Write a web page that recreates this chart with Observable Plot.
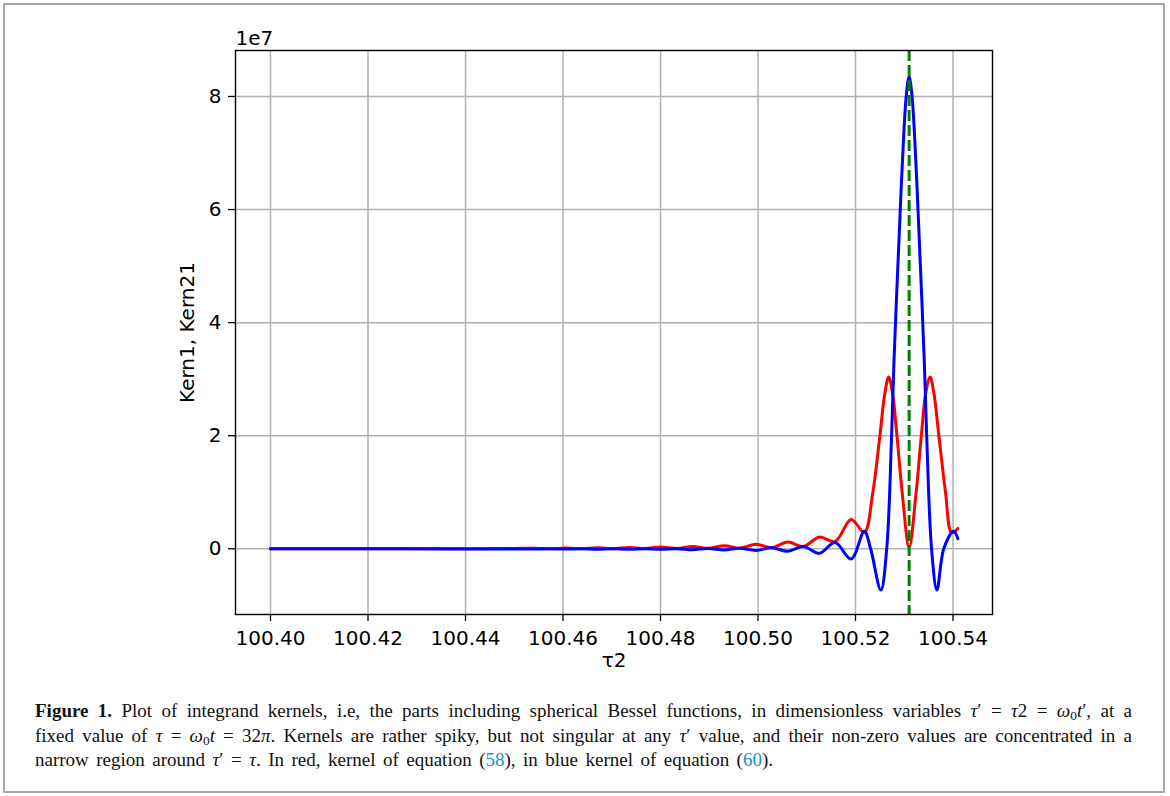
<!DOCTYPE html>
<html>
<head>
<meta charset="utf-8">
<script src="https://cdn.jsdelivr.net/npm/d3@7"></script>
<script src="https://cdn.jsdelivr.net/npm/@observablehq/plot@0.6"></script>
<style>
  html, body { margin: 0; padding: 0; background: #fff; }
  #page { position: relative; width: 1170px; height: 796px; overflow: hidden; background: #fff; }
  #border { position: absolute; left: 3px; top: 3px; width: 1158px; height: 786px; border: 2px solid #a8a8a8; }
  #chart { position: absolute; left: 0; top: 0; }
  #caption { position: absolute; left: 35px; top: 699px; width: 1097px;
             font-family: "Liberation Serif", "DejaVu Serif", serif; font-size: 19px; line-height: 24.5px; color: #111; }
  #caption .ln { white-space: nowrap; transform-origin: 0 50%; }
  #caption .ref { color: #1a8fd0; }
  #caption sub { font-size: 0.7em; vertical-align: -0.25em; line-height: 0; }
</style>
</head>
<body>
<div id="page">
  <div id="border"></div>
  <div id="chart"></div>
  <div id="caption">
    <div class="ln" data-w="1097"><b>Figure 1.</b> Plot of integrand kernels, i.e, the parts including spherical Bessel functions, in dimensionless variables <i>τ</i>′ = <i>τ</i>2 = <i>ω</i><sub>0</sub><i>t</i>′, at a</div>
    <div class="ln" data-w="1097">fixed value of <i>τ</i> = <i>ω</i><sub>0</sub><i>t</i> = 32<i>π</i>. Kernels are rather spiky, but not singular at any <i>τ</i>′ value, and their non-zero values are concentrated in a</div>
    <div class="ln" data-w="738">narrow region around <i>τ</i>′ = <i>τ</i>. In red, kernel of equation (<span class="ref">58</span>), in blue kernel of equation (<span class="ref">60</span>).</div>
  </div>
</div>
<script>
// ---- data (kernel values in units of 1e7) ----
const tauRed = [100.400, 100.420, 100.440, 100.450, 100.4541, 100.4573, 100.4606, 100.4638, 100.4671, 100.4703,
  100.4736, 100.4768, 100.4801, 100.4833, 100.4866, 100.4898, 100.4931, 100.4963, 100.4996, 100.5028,
  100.5061, 100.5093, 100.5126, 100.5158, 100.5191, 100.5218, 100.5235, 100.5250, 100.5260, 100.5268,
  100.5276, 100.5285, 100.5296, 100.5310, 100.5324, 100.5335, 100.5344, 100.5353, 100.5361, 100.5371,
  100.5385, 100.5397, 100.5410];
const kern1 = [0.000, 0.001, 0.003, 0.005, 0.010, 0.001, 0.013, 0.002, 0.017, 0.003,
  0.022, 0.004, 0.030, 0.005, 0.040, 0.008, 0.055, 0.012, 0.080, 0.020,
  0.120, 0.040, 0.210, 0.130, 0.520, 0.290, 0.97, 2.00, 2.74, 3.04,
  2.75, 2.00, 0.97, 0.02, 0.97, 2.00, 2.75, 3.04, 2.74, 2.00,
  0.97, 0.29, 0.36];

const tauBlue = [100.400, 100.420, 100.440, 100.450, 100.4541, 100.4573, 100.4606, 100.4638, 100.4671, 100.4703,
  100.4736, 100.4768, 100.4801, 100.4833, 100.4866, 100.4898, 100.4931, 100.4963, 100.4996, 100.5028,
  100.5061, 100.5093, 100.5126, 100.5158, 100.5191, 100.5218, 100.5231, 100.5252, 100.5264, 100.5274,
  100.5279, 100.5290, 100.5296, 100.5304, 100.5310, 100.5316, 100.5324, 100.5330, 100.5341, 100.5346,
  100.5356, 100.5367, 100.5381, 100.5401, 100.5410];
const kern21 = [0.000, -0.001, -0.002, -0.003, -0.003, 0.000, -0.004, 0.000, -0.006, 0.001,
  -0.008, 0.002, -0.010, 0.003, -0.015, 0.005, -0.020, 0.010, -0.030, 0.020,
  -0.045, 0.040, -0.080, 0.110, -0.180, 0.310, 0.00, -0.73, 0.00, 2.00,
  3.34, 5.63, 6.80, 8.00, 8.35, 8.00, 6.80, 5.63, 3.34, 2.00,
  0.00, -0.73, 0.00, 0.31, 0.18];

const tauMark = [100.5310];           // tau = 32*pi
const xTicks = [100.40, 100.42, 100.44, 100.46, 100.48, 100.50, 100.52, 100.54];
const yTicks = [0, 2, 4, 6, 8];
const xLabel = "τ2";
const yLabel = "Kern1, Kern21";
const offsetLabel = "1e7";

const redData = tauRed.map((t, i) => ({t, v: kern1[i]}));
const blueData = tauBlue.map((t, i) => ({t, v: kern21[i]}));

const gridStyle = {stroke: "#b0b0b0", strokeOpacity: 1, strokeWidth: 1.5};

const chart = Plot.plot({
  width: 1170,
  height: 680,
  marginLeft: 235,
  marginRight: 178,
  marginTop: 50,
  marginBottom: 66,
  x: {domain: [100.39282, 100.54810]},
  y: {domain: [-1.162, 8.813]},
  style: {fontFamily: "DejaVu Sans", fontSize: "20px", color: "black", background: "transparent", overflow: "visible"},
  marks: [
    Plot.gridX(xTicks, gridStyle),
    Plot.gridY(yTicks, gridStyle),
    Plot.line(redData, {x: "t", y: "v", stroke: "red", strokeWidth: 3, curve: "catmull-rom"}),
    Plot.line(blueData, {x: "t", y: "v", stroke: "blue", strokeWidth: 3, curve: "catmull-rom"}),
    Plot.ruleX(tauMark, {stroke: "green", strokeWidth: 3, strokeDasharray: "11,4"}),
    Plot.frame({stroke: "black", strokeWidth: 1.4}),
    Plot.axisX(xTicks, {tickFormat: d3.format(".2f"), tickSize: 7, tickPadding: 9, strokeWidth: 1.3, label: null}),
    Plot.axisY(yTicks, {tickFormat: d => String(d), tickSize: 7, tickPadding: 7, strokeWidth: 1.3, label: null}),
    Plot.text([yLabel], {frameAnchor: "left", rotate: -90, dx: -48, textAnchor: "middle", lineAnchor: "middle"}),
    Plot.text([xLabel], {frameAnchor: "bottom", dy: 46, textAnchor: "middle", lineAnchor: "middle"}),
    Plot.text([offsetLabel], {frameAnchor: "top-left", dy: -12, textAnchor: "start", lineAnchor: "middle"})
  ]
});
document.getElementById("chart").appendChild(chart);

// fit caption lines to their measured widths (condense like the journal font, then justify)
document.querySelectorAll("#caption .ln").forEach(div => {
  const target = +div.dataset.w;
  const span = document.createElement("span");
  while (div.firstChild) span.appendChild(div.firstChild);
  div.appendChild(span);
  const w = span.getBoundingClientRect().width;
  const spaces = (span.textContent.match(/ /g) || []).length;
  if (spaces > 0) div.style.wordSpacing = ((target - w) / spaces) + "px";
});
</script>
</body>
</html>
